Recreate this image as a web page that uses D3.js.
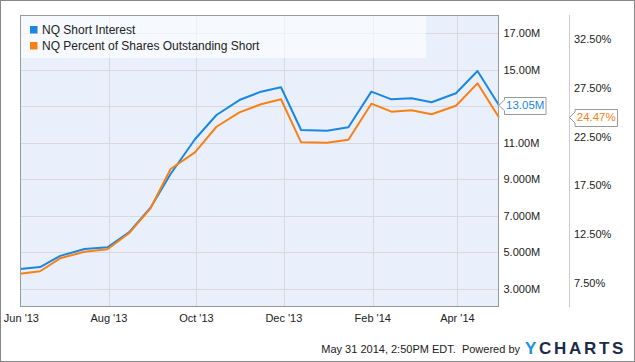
<!DOCTYPE html>
<html>
<head>
<meta charset="utf-8">
<script src="https://cdn.jsdelivr.net/npm/d3@7"></script>
<style>
  body { margin: 0; background: #fff; }
  svg { display: block; font-family: "Liberation Sans", Arial, sans-serif; }
</style>
</head>
<body>
<div id="chart"></div>
<script>
// semi-monthly settlement dates
const dates = ['2013-05-31', '2013-06-14', '2013-06-28', '2013-07-15', '2013-07-31', '2013-08-15',
  '2013-08-30', '2013-09-13', '2013-09-30', '2013-10-15', '2013-10-31', '2013-11-15', '2013-11-29',
  '2013-12-13', '2013-12-31', '2014-01-15', '2014-01-31', '2014-02-14', '2014-02-28', '2014-03-14',
  '2014-03-31', '2014-04-15', '2014-04-30'];

// NQ Short Interest, millions of shares
const shortInterest = [4.08, 4.19, 4.80, 5.18, 5.27, 6.09, 7.44, 9.29, 11.19, 12.52, 13.34, 13.80, 14.04,
  11.70, 11.66, 11.85, 13.80, 13.38, 13.44, 13.22, 13.71, 14.93, 13.05];

// NQ Percent of Shares Outstanding Short
const pctShort = [8.42, 8.67, 10.00, 10.68, 10.93, 12.57, 15.14, 19.18, 20.89, 23.52, 25.00, 25.83, 26.34,
  21.92, 21.88, 22.19, 25.89, 25.07, 25.21, 24.80, 25.68, 27.98, 24.47];

const xTickDates = ['2013-06-01', '2013-08-01', '2013-10-01', '2013-12-01', '2014-02-01', '2014-04-01'];
const xTickLabels = ["Jun '13", "Aug '13", "Oct '13", "Dec '13", "Feb '14", "Apr '14"];
const leftTicks = [3, 5, 7, 9, 11, 13, 15, 17];
const leftTickLabels = ['3.000M', '5.000M', '7.000M', '9.000M', '11.00M', '13.00M', '15.00M', '17.00M'];
const rightTicks = [7.5, 12.5, 17.5, 22.5, 27.5, 32.5];
const rightTickLabels = ['7.50%', '12.50%', '17.50%', '22.50%', '27.50%', '32.50%'];
const seriesNames = ['NQ Short Interest', 'NQ Percent of Shares Outstanding Short'];

const width = 635;
const height = 362;
const plot = {left: 20, right: 499, top: 15, bottom: 307};
const blue = '#1a87e3';
const orange = '#fa8014';

const parse = d3.timeParse('%Y-%m-%d');
const dateVals = dates.map(parse);
const lastSI = shortInterest[shortInterest.length - 1];
const lastPct = pctShort[pctShort.length - 1];

const svg = d3.select('#chart').append('svg')
  .attr('width', width)
  .attr('height', height);

// outer frame
svg.append('rect')
  .attr('x', 0.5).attr('y', 0.5)
  .attr('width', width - 1).attr('height', height - 1)
  .attr('fill', '#fff')
  .attr('stroke', '#888');

const x = d3.scaleTime()
  .domain([dateVals[0], dateVals[dateVals.length - 1]])
  .range([plot.left, plot.right]);

const yLeft = d3.scaleLinear().domain([2, 18]).range([plot.bottom, plot.top]);
const yRight = d3.scaleLinear().domain([5, 35]).range([plot.bottom, plot.top]);

svg.append('rect')
  .attr('x', plot.left).attr('y', plot.top)
  .attr('width', plot.right - plot.left).attr('height', plot.bottom - plot.top)
  .attr('fill', '#e9f0fb');

// grid
const grid = svg.append('g').attr('stroke', '#d6d9de').attr('stroke-width', 1);
grid.selectAll('.hgrid')
  .data(leftTicks)
  .enter().append('line')
  .attr('x1', plot.left).attr('x2', plot.right)
  .attr('y1', d => Math.round(yLeft(d)) + 0.5)
  .attr('y2', d => Math.round(yLeft(d)) + 0.5);
grid.selectAll('.vgrid')
  .data(xTickDates.slice(1))
  .enter().append('line')
  .attr('x1', d => Math.round(x(parse(d))) + 0.5)
  .attr('x2', d => Math.round(x(parse(d))) + 0.5)
  .attr('y1', plot.top).attr('y2', plot.bottom);

// legend box
svg.append('rect')
  .attr('x', plot.left).attr('y', plot.top)
  .attr('width', 406).attr('height', 43)
  .attr('fill', '#fff')
  .attr('fill-opacity', 0.6);

const legend = svg.append('g');
[blue, orange].forEach((c, i) => {
  legend.append('rect')
    .attr('x', 30).attr('y', 26 + i * 16)
    .attr('width', 7.5).attr('height', 7.5)
    .attr('fill', c);
  legend.append('text')
    .attr('x', 42).attr('y', 34 + i * 16)
    .attr('font-size', 12)
    .attr('fill', '#222')
    .text(seriesNames[i]);
});

// lines
const lineLeft = d3.line()
  .x((d, i) => x(dateVals[i]))
  .y(d => yLeft(d));
const lineRight = d3.line()
  .x((d, i) => x(dateVals[i]))
  .y(d => yRight(d));

svg.append('path')
  .datum(shortInterest)
  .attr('d', lineLeft)
  .attr('fill', 'none')
  .attr('stroke', blue)
  .attr('stroke-width', 2)
  .attr('stroke-linejoin', 'round');

svg.append('path')
  .datum(pctShort)
  .attr('d', lineRight)
  .attr('fill', 'none')
  .attr('stroke', orange)
  .attr('stroke-width', 2)
  .attr('stroke-linejoin', 'round');

// plot border
svg.append('rect')
  .attr('x', plot.left + 0.5).attr('y', plot.top + 0.5)
  .attr('width', plot.right - plot.left - 1).attr('height', plot.bottom - plot.top - 1)
  .attr('fill', 'none')
  .attr('stroke', '#999');

// x axis labels
svg.append('g').selectAll('text')
  .data(xTickDates)
  .enter().append('text')
  .attr('x', d => x(parse(d)))
  .attr('y', 322)
  .attr('text-anchor', 'middle')
  .attr('font-size', 11)
  .attr('fill', '#222')
  .text((d, i) => xTickLabels[i]);

// left value axis (drawn on the right of the plot); the label under the flag is hidden
svg.append('g').selectAll('text')
  .data(leftTicks.map((d, i) => ({v: d, label: leftTickLabels[i]}))
    .filter(d => Math.abs(yLeft(d.v) - yLeft(lastSI)) > 10))
  .enter().append('text')
  .attr('x', 503.5)
  .attr('y', d => yLeft(d.v) + 4)
  .attr('font-size', 11)
  .attr('fill', '#222')
  .text(d => d.label);

// second axis
svg.append('line')
  .attr('x1', 569.5).attr('x2', 569.5)
  .attr('y1', plot.top).attr('y2', plot.bottom)
  .attr('stroke', '#ccc');

svg.append('g').selectAll('text')
  .data(rightTicks)
  .enter().append('text')
  .attr('x', 574)
  .attr('y', d => yRight(d) + 4)
  .attr('font-size', 11)
  .attr('fill', '#222')
  .text((d, i) => rightTickLabels[i]);

// last value flags
function flag(tipX, tipY, boxX, boxW, label, color) {
  const h = 17;
  const top = Math.round(tipY - h / 2) + 0.5;
  const path = `M${boxX},${top} H${boxX + boxW} V${top + h} H${boxX} V${tipY + 5.5} L${tipX},${tipY} L${boxX},${tipY - 5.5} Z`;
  svg.append('path')
    .attr('d', path)
    .attr('fill', '#fff')
    .attr('stroke', '#999');
  svg.append('text')
    .attr('x', boxX + boxW / 2)
    .attr('y', tipY + 4)
    .attr('text-anchor', 'middle')
    .attr('font-size', 11.5)
    .attr('fill', color)
    .text(label);
}

flag(plot.right, yLeft(lastSI), 504.5, 41.5, d3.format('.2f')(lastSI) + 'M', blue);
flag(569.5, yRight(lastPct), 575, 42.5, d3.format('.2f')(lastPct) + '%', orange);

// footer
svg.append('text')
  .attr('x', 520).attr('y', 353)
  .attr('text-anchor', 'end')
  .attr('font-size', 11)
  .attr('fill', '#222')
  .attr('xml:space', 'preserve')
  .style('white-space', 'pre')
  .text('May 31 2014, 2:50PM EDT.  Powered by');

const logo = svg.append('text')
  .attr('x', 525).attr('y', 354)
  .attr('font-size', 17)
  .attr('font-weight', 'bold')
  .attr('letter-spacing', 2.7)
  .attr('fill', '#1c2b4c');
logo.append('tspan').attr('fill', '#1e8fe6').text('Y');
logo.append('tspan').text('CHARTS');
</script>
</body>
</html>
